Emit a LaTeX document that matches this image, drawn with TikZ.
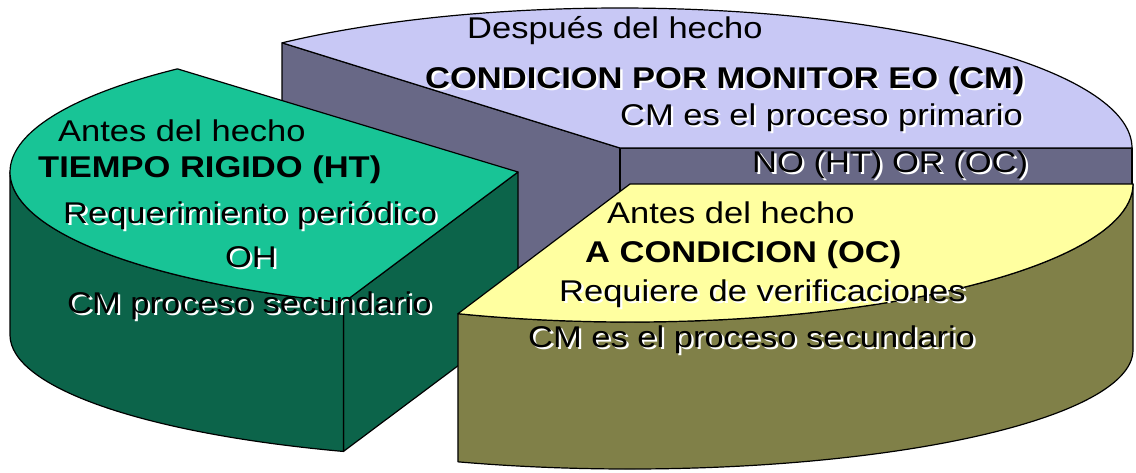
\documentclass[tikz,border=0pt]{standalone}
\usepackage{fontspec}
\setmainfont{Liberation Sans}
\usepackage{graphicx}
\usetikzlibrary{calc}
\definecolor{lavtop}{RGB}{200,200,245}
\definecolor{lavside}{RGB}{104,104,134}
\definecolor{grtop}{RGB}{24,196,150}
\definecolor{grside}{RGB}{12,100,74}
\definecolor{yetop}{RGB}{255,255,160}
\definecolor{yeside}{RGB}{128,128,72}
\newcommand\wx[1]{\scalebox{1.15}[1]{#1}}
\newcommand\shd[1]{\rlap{\kern2pt\raisebox{-2pt}{\color{white}#1}}#1}
\begin{document}
\begin{tikzpicture}[x=1pt,y=-1pt,
  face/.style={draw=black,line width=1.2pt,line join=round},
  lbl/.style={anchor=base west,inner sep=0pt,text=black,font=\fontsize{30}{34}\selectfont},
  blbl/.style={lbl,font=\fontsize{30}{34}\selectfont\bfseries}]
\useasboundingbox (0,0) rectangle (1136,472);

% ---------- purple slice (CM) ----------
\coordinate (pc) at (620,148);
\coordinate (pR) at (1132,148);
\path (pc) ++(228.7:512 and 140) coordinate (pL);
\filldraw[face,fill=lavside] (pL) -- (pc) -- ($(pc)+(0,155)$) -- ($(pL)+(0,155)$) -- cycle;
\filldraw[face,fill=lavside] (pc) -- (pR) -- ($(pR)+(0,155)$) -- ($(pc)+(0,155)$) -- cycle;
\filldraw[face,fill=lavtop] (pc) -- (pL) arc[start angle=228.7,end angle=360,x radius=512,y radius=140] -- cycle;

% ---------- green slice (HT) ----------
\coordinate (gc) at (518,172);
\coordinate (gbc) at (518,335);
\path (gc) ++(227.9:508 and 139) coordinate (gB);
\path (gc) ++(110.1:508 and 139) coordinate (gC);
\path (gc) ++(180:508 and 139) coordinate (gW);
\path (gbc) ++(110.1:508 and 124) coordinate (gCb);
\coordinate (gcb) at ($(gc)+(gCb)-(gC)$);
\filldraw[face,fill=grside] (gc) -- (gC) -- (gCb) -- (gcb) -- cycle;
\filldraw[face,fill=grside] (gW) arc[start angle=180,end angle=110.1,x radius=508,y radius=139]
  -- (gCb) arc[start angle=110.1,end angle=180,x radius=508,y radius=124] -- cycle;
\filldraw[face,fill=grtop] (gc) -- (gB) arc[start angle=227.9,end angle=110.1,x radius=508,y radius=139] -- cycle;

% ---------- yellow slice (OC) ----------
\coordinate (yc) at (630,184);
\coordinate (yR) at (1133,184);
\coordinate (ybc) at (630,350);
\path (ybc) ++(110:503 and 119) coordinate (yLb);
\filldraw[face,fill=yeside] (yR) arc[start angle=0,end angle=110,x radius=503,y radius=138]
  -- (yLb) arc[start angle=110,end angle=0,x radius=503,y radius=119] -- cycle;
\filldraw[face,fill=yetop] (yc) -- (yR) arc[start angle=0,end angle=110,x radius=503,y radius=138] -- cycle;

% ---------- texts ----------
\node[lbl]  (t1)  at (467,38)  {\wx{Después del hecho}};
\node[blbl] (t2)  at (425,88)  {\wx{\shd{CONDICION POR MONITOR EO (CM)}}};
\node[lbl]  (t3)  at (620,125) {\wx{\shd{CM es el proceso primario}}};
\node[lbl]  (t4)  at (752,172) {\wx{\shd{NO (HT) OR (OC)}}};

\node[lbl]  (t5)  at (58,141)  {\wx{Antes del hecho}};
\node[blbl] (t6)  at (38,177)  {\wx{TIEMPO RIGIDO (HT)}};
\node[lbl]  (t7)  at (63,223)  {\wx{\shd{Requerimiento periódico}}};
\node[lbl,anchor=base] (t8) at (251,267) {\wx{\shd{OH}}};
\node[lbl]  (t9)  at (67,313)  {\wx{\shd{CM proceso secundario}}};

\node[lbl]  (t10) at (607,223) {\wx{Antes del hecho}};
\node[blbl] (t11) at (585,262) {\wx{A CONDICION (OC)}};
\node[lbl]  (t12) at (559,301) {\wx{\shd{Requiere de verificaciones}}};
\node[lbl]  (t13) at (528,347) {\wx{\shd{CM es el proceso secundario}}};
\end{tikzpicture}
\end{document}
